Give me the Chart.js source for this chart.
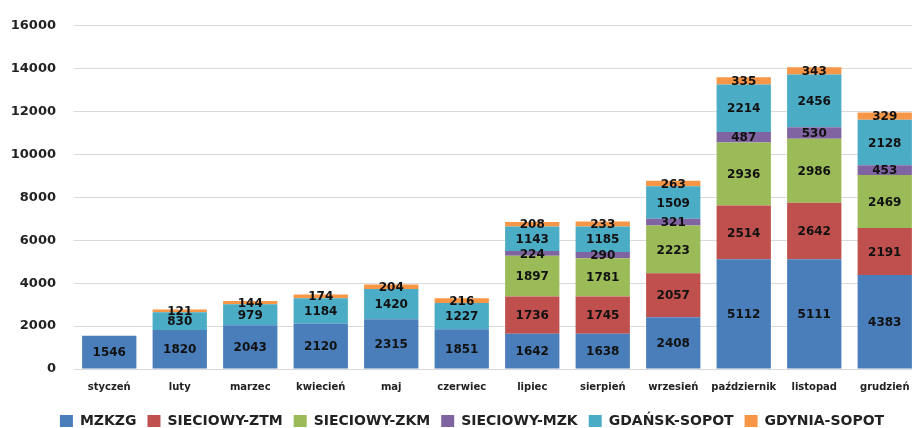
<!DOCTYPE html>
<html>
<head>
<meta charset="utf-8">
<script src="https://cdn.jsdelivr.net/npm/chart.js@4"></script>
<style>
  html, body { margin: 0; padding: 0; background: #fff; overflow: hidden; }
  #wrap { position: relative; width: 944px; height: 428px; }
</style>
</head>
<body>
<div id="wrap"><canvas id="chart"></canvas></div>
<script>
// Months
const months = ['styczeń', 'luty', 'marzec', 'kwiecień', 'maj', 'czerwiec',
    'lipiec', 'sierpień', 'wrzesień', 'październik', 'listopad', 'grudzień'];

// Series values (per month)
const mzkzg       = [1546, 1820, 2043, 2120, 2315, 1851, 1642, 1638, 2408, 5112, 5111, 4383];
const siecZtm     = [0, 0, 0, 0, 0, 0, 1736, 1745, 2057, 2514, 2642, 2191];
const siecZkm     = [0, 0, 0, 0, 0, 0, 1897, 1781, 2223, 2936, 2986, 2469];
const siecMzk     = [0, 0, 0, 0, 0, 0, 224, 290, 321, 487, 530, 453];
const gdanskSopot = [0, 830, 979, 1184, 1420, 1227, 1143, 1185, 1509, 2214, 2456, 2128];
const gdyniaSopot = [0, 121, 144, 174, 204, 216, 208, 233, 263, 335, 343, 329];

// Y axis ticks
const yMin = 0;
const yMax = 16000;
const yStep = 2000;

const FONT = "'DejaVu Sans', sans-serif";

// Draw value in the middle of each segment
const segmentLabels = {
    id: 'segmentLabels',
    afterDatasetsDraw(chart) {
        const ctx = chart.ctx;
        ctx.save();
        ctx.font = `bold 12px ${FONT}`;
        ctx.fillStyle = '#111';
        ctx.textAlign = 'center';
        ctx.textBaseline = 'middle';
        chart.data.datasets.forEach((ds, i) => {
            const meta = chart.getDatasetMeta(i);
            meta.data.forEach((bar, j) => {
                const v = ds.data[j];
                if (!v) return;
                ctx.fillText(String(v), bar.x, (bar.y + bar.base) / 2 + 1);
            });
        });
        ctx.restore();
    }
};

// nudge the legend a little to the right, like the original
const legendShift = {
    id: 'legendShift',
    afterLayout(chart) {
        if (!chart.legend) return;
        chart.legend.left += 7;
        chart.legend.right += 7;
    }
};

function makeSet(label, data, color) {
    return {
        label,
        data,
        backgroundColor: color,
        borderWidth: 0,
        categoryPercentage: 1,
        barPercentage: 0.77
    };
}

const ctx = document.getElementById('chart').getContext('2d');
new Chart(ctx, {
    type: 'bar',
    data: {
        labels: months,
        datasets: [
            makeSet('MZKZG', mzkzg, '#4a7ebb'),
            makeSet('SIECIOWY-ZTM', siecZtm, '#c0504d'),
            makeSet('SIECIOWY-ZKM', siecZkm, '#9bbb59'),
            makeSet('SIECIOWY-MZK', siecMzk, '#8064a2'),
            makeSet('GDAŃSK-SOPOT', gdanskSopot, '#4bacc6'),
            makeSet('GDYNIA-SOPOT', gdyniaSopot, '#f79646')
        ]
    },
    options: {
        responsive: true,
        maintainAspectRatio: false,
        animation: false,
        layout: { padding: { top: 14, left: 10, right: 24, bottom: -10 } },
        plugins: {
            tooltip: { enabled: false },
            legend: {
                position: 'bottom',
                labels: {
                    boxWidth: 13,
                    boxHeight: 12,
                    padding: 11,
                    color: '#222',
                    font: { family: FONT, size: 14, weight: 'bold' }
                }
            }
        },
        scales: {
            x: {
                stacked: true,
                grid: { display: false },
                border: { display: false },
                afterFit: axis => { axis.height += 6; },
                ticks: {
                    color: '#222',
                    padding: 4,
                    maxRotation: 0,
                    autoSkip: false,
                    font: { family: FONT, size: 10, weight: 'bold' }
                }
            },
            y: {
                stacked: true,
                min: yMin,
                max: yMax,
                grid: { color: '#d9d9d9', lineWidth: 1, drawTicks: false },
                border: { display: false },
                afterFit: axis => { axis.width = 64; },
                ticks: {
                    stepSize: yStep,
                    color: '#222',
                    padding: 18,
                    callback: v => String(v),
                    font: { family: FONT, size: 13, weight: 'bold' }
                }
            }
        }
    },
    plugins: [segmentLabels, legendShift]
});
</script>
</body>
</html>
